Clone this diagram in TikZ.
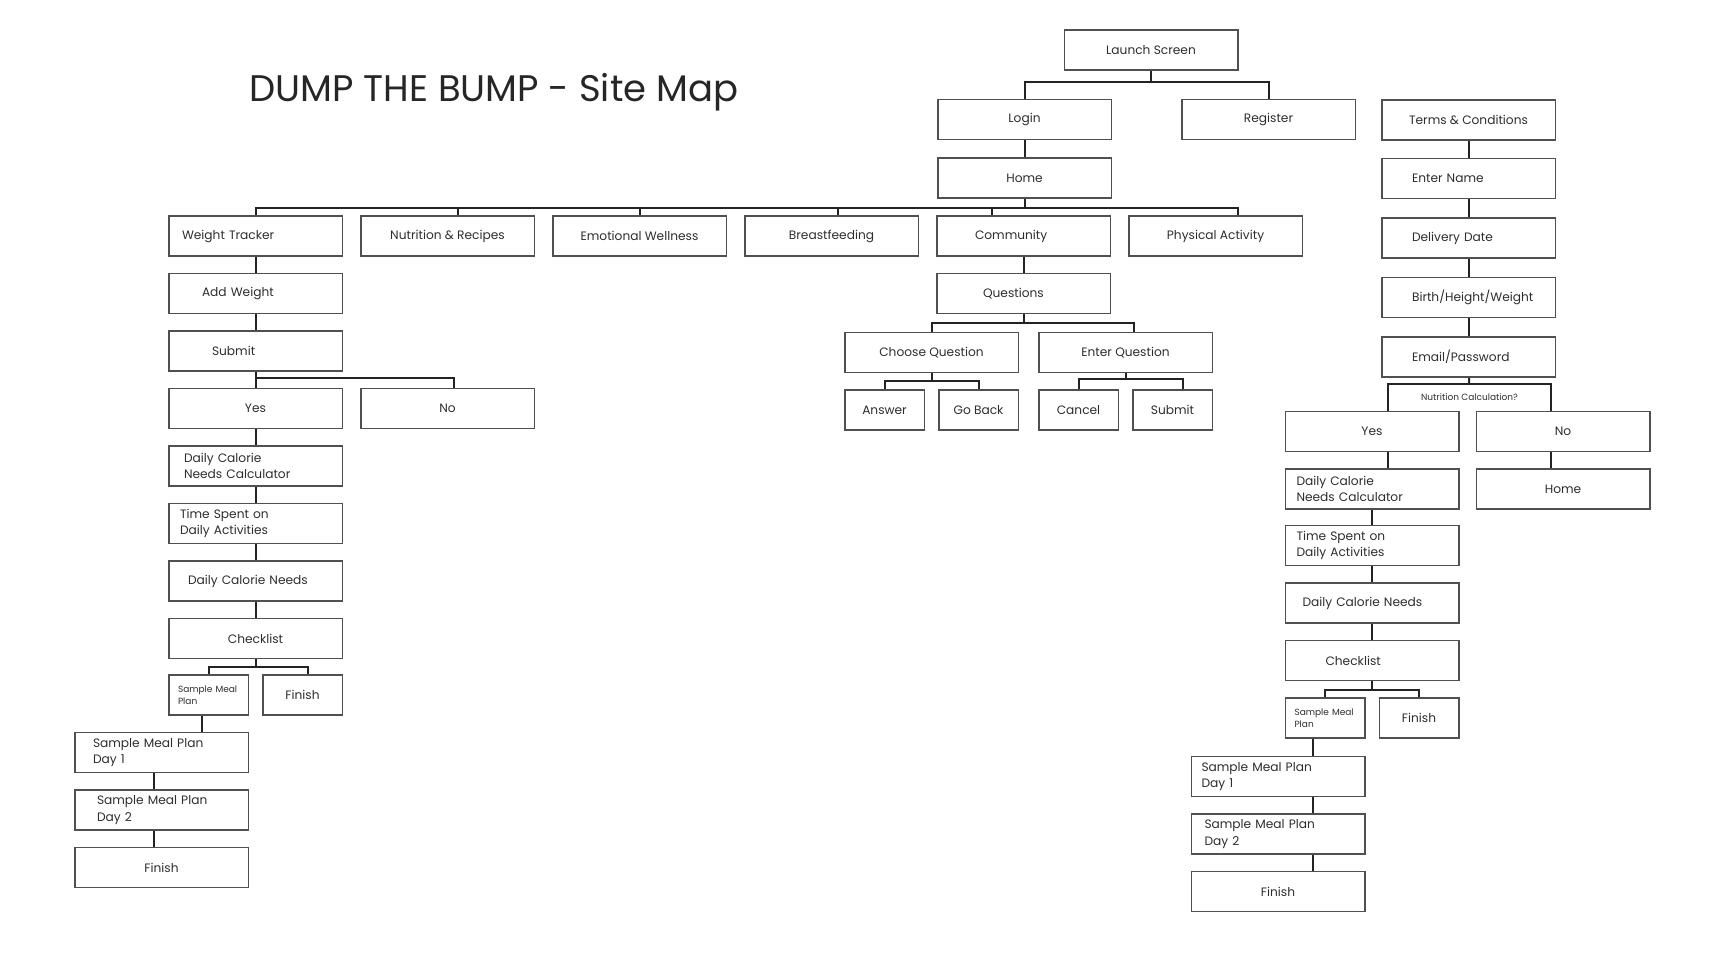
\documentclass[tikz,border=0pt]{standalone}
\usepackage{fontspec}
\setmainfont{Poppins}
\usepackage{tikz}
\usetikzlibrary{
  positioning
}
\definecolor{mapline}{RGB}{35,35,35}
\definecolor{mapedge}{RGB}{80,80,80}
\definecolor{maptext}{RGB}{45,45,45}
\tikzset{
  mapBox/.style={
    rectangle,
    draw=mapedge,
    line width=0.75pt,
    minimum width=86.75pt,
    minimum height=20pt,
    inner sep=0pt,
    text=maptext,
    font=\fontsize{6.1}{8.2}\selectfont
  },
  mapLeft/.style={
    mapBox,
    text width=#1,
    align=left
  },
  mapSmall/.style={
    mapBox,
    minimum width=39.75pt
  },
  mapTiny/.style={
    mapSmall,
    text width=30.5pt,
    align=left,
    font=\fontsize{4.5}{5.8}\selectfont
  },
  mapQuestion/.style={
    inner sep=0pt,
    minimum width=81.5pt,
    minimum height=13.5pt,
    text=maptext,
    font=\fontsize{4.5}{5.5}\selectfont
  },
  mapLink/.style={
    draw=mapline,
    line width=1pt
  }
}

\begin{document}
\begin{tikzpicture}[x=0.5pt, y=-0.5pt]
  \useasboundingbox (0,0) rectangle (1727,954);

  \node[anchor=base west, inner sep=0pt, text=black!85,
    font=\fontsize{18.5}{22}\selectfont] (title) at (249,101)
    {DUMP THE BUMP - Site Map};

  % top of the tree
  \node[mapBox] (launch) at (1151,50) {Launch Screen};
  \node[mapBox] (login) at (1024.5,119.5) {Login};
  \node[mapBox, right=34.5pt of login] (register) {Register};
  \node[mapBox, below=8.5pt of login] (home) {Home};

  % sections
  \node[mapLeft=73.5pt] (weight) at (255.5,236) {Weight Tracker};
  \node[mapBox, right=8.5pt of weight] (nutrition) {Nutrition \& Recipes};
  \node[mapBox, right=8.5pt of nutrition] (emotional) {Emotional Wellness};
  \node[mapBox, right=8.5pt of emotional] (breast) {Breastfeeding};
  \node[mapLeft=48.5pt, right=8.5pt of breast] (community) {Community};
  \node[mapBox, right=8.5pt of community] (physical) {Physical Activity};

  % weight tracker
  \node[mapLeft=53.5pt, below=8pt of weight] (addweight) {Add Weight};
  \node[mapLeft=43.5pt, below=8pt of addweight] (submitW) {Submit};
  \node[mapBox, below=8pt of submitW] (yesW) {Yes};
  \node[mapBox, right=8.5pt of yesW] (noW) {No};
  \node[mapLeft=71.5pt, below=8pt of yesW] (calcW) {Daily Calorie\\Needs Calculator};
  \node[mapLeft=75.5pt, below=8pt of calcW] (timeW) {Time Spent on\\Daily Activities};
  \node[mapLeft=67.5pt, below=8pt of timeW] (needsW) {Daily~Calorie~Needs};
  \node[mapBox, below=8pt of needsW] (checkW) {Checklist};
  \node[mapTiny, below=7.5pt of checkW.south west, anchor=north west] (mealW) {Sample Meal\\Plan};
  \node[mapSmall, below=7.5pt of checkW.south east, anchor=north east] (finishW) {Finish};
  \node[mapLeft=68.5pt, below=8pt of mealW.south east, anchor=north east] (day1W) {Sample Meal Plan\\Day 1};
  \node[mapLeft=64.5pt, below=8pt of day1W] (day2W) {Sample Meal Plan\\Day 2};
  \node[mapBox, below=8pt of day2W] (endW) {Finish};

  % community
  \node[mapLeft=40.5pt, below=8pt of community] (questions) {Questions};
  \node[mapBox] (choose) at (931.5,352.5) {Choose Question};
  \node[mapBox, right=9.5pt of choose] (enter) {Enter Question};
  \node[mapSmall, below=8pt of choose.south west, anchor=north west] (answer) {Answer};
  \node[mapSmall, below=8pt of choose.south east, anchor=north east] (goback) {Go Back};
  \node[mapSmall, below=8pt of enter.south west, anchor=north west] (cancel) {Cancel};
  \node[mapSmall, below=8pt of enter.south east, anchor=north east] (submitQ) {Submit};

  % register
  \node[mapBox] (terms) at (1468.5,120) {Terms \& Conditions};
  \node[mapLeft=56.5pt, below=8.5pt of terms] (name) {Enter Name};
  \node[mapLeft=56.5pt, below=9pt of name] (delivery) {Delivery Date};
  \node[mapLeft=56.5pt, below=9pt of delivery] (birth) {Birth/Height/Weight};
  \node[mapLeft=56.5pt, below=9pt of birth] (email) {Email/Password};
  \node[mapQuestion] (nutcalc) at (1469.5,397.5) {Nutrition Calculation?};
  \node[mapBox] (yesR) at (1372,431.5) {Yes};
  \node[mapBox, right=8pt of yesR] (noR) {No};
  \node[mapBox, below=8pt of noR] (homeR) {Home};
  \node[mapLeft=75.5pt, below=8pt of yesR] (calcR) {Daily Calorie\\Needs Calculator};
  \node[mapLeft=75.5pt, below=7.5pt of calcR] (timeR) {Time Spent on\\Daily Activities};
  \node[mapLeft=69.5pt, below=8pt of timeR] (needsR) {Daily~Calorie~Needs};
  \node[mapLeft=46.5pt, below=8pt of needsR] (checkR) {Checklist};
  \node[mapTiny, below=8pt of checkR.south west, anchor=north west] (mealR) {Sample Meal\\Plan};
  \node[mapSmall, below=8pt of checkR.south east, anchor=north east] (finishR) {Finish};
  \node[mapLeft=76.5pt, below=8.5pt of mealR.south east, anchor=north east] (day1R) {Sample Meal Plan\\Day 1};
  \node[mapLeft=73.5pt, below=8pt of day1R] (day2R) {Sample Meal Plan\\Day 2};
  \node[mapBox, below=8pt of day2R] (endR) {Finish};

  % connectors
  \draw[mapLink] (launch.south) -- ++(0,11) coordinate (launchbar);
  \foreach \n in {login,register}
    \draw[mapLink] (launchbar) -| (\n.north);
  \draw[mapLink] (login) -- (home);
  \draw[mapLink] (home.south) -- ++(0,9) coordinate (homebar);
  \foreach \n/\s in {weight/0,nutrition/5,emotional/0,breast/3,community/-16,physical/11}
    \draw[mapLink] (homebar) -| ([xshift=\s pt]\n.north);

  \foreach \a/\b in {weight/addweight,addweight/submitW,yesW/calcW,calcW/timeW,
      timeW/needsW,needsW/checkW}
    \draw[mapLink] (\a) -- (\b);
  \draw[mapLink] (submitW.south) -- ++(0,6) coordinate (submitbar);
  \draw[mapLink] (submitbar) -| (yesW.north);
  \draw[mapLink] (submitbar) -| ([xshift=3pt]noW.north);
  \draw[mapLink] (checkW.south) -- ++(0,8) coordinate (checkbarW);
  \draw[mapLink] (checkbarW) -| (mealW.north);
  \draw[mapLink] (checkbarW) -| ([xshift=2.5pt]finishW.north);
  \coordinate (dropMeal) at ([xshift=-3.5pt]mealW.south);
  \draw[mapLink] (dropMeal) -- (dropMeal |- day1W.north);
  \coordinate (dropW) at ([xshift=-4pt]day1W.south);
  \draw[mapLink] (dropW) -- (dropW |- day2W.north);
  \draw[mapLink] (day2W.south -| dropW) -- (endW.north -| dropW);

  \draw[mapLink] (community) -- (questions);
  \draw[mapLink] (questions.south) -- ++(0,9) coordinate (qbar);
  \draw[mapLink] (qbar) -| (choose.north);
  \draw[mapLink] (qbar) -| ([xshift=4pt]enter.north);
  \draw[mapLink] (choose.south) -- ++(0,8) coordinate (choosebar);
  \draw[mapLink] (choosebar) -| (answer.north);
  \draw[mapLink] (choosebar) -| (goback.north);
  \draw[mapLink] (enter.south) -- ++(0,6) coordinate (enterbar);
  \draw[mapLink] (enterbar) -| (cancel.north);
  \draw[mapLink] (enterbar) -| ([xshift=5pt]submitQ.north);

  \foreach \a/\b in {terms/name,name/delivery,delivery/birth,birth/email,email/nutcalc,
      calcR/timeR,timeR/needsR,needsR/checkR}
    \draw[mapLink] (\a) -- (\b);
  \draw[mapLink] (nutcalc.south west) |- (nutcalc.north) -| (nutcalc.south east);
  \draw[mapLink] (yesR.south -| nutcalc.south west) -- (calcR.north -| nutcalc.south west);
  \draw[mapLink] (noR.south -| nutcalc.south east) -- (homeR.north -| nutcalc.south east);
  \draw[mapLink] (checkR.south) -- ++(0,9) coordinate (checkbarR);
  \draw[mapLink] (checkbarR) -| (mealR.north);
  \draw[mapLink] (checkbarR) -| (finishR.north);
  \coordinate (dropR) at ([xshift=-6pt]mealR.south);
  \draw[mapLink] (dropR) -- (dropR |- day1R.north);
  \draw[mapLink] (day1R.south -| dropR) -- (day2R.north -| dropR);
  \draw[mapLink] (day2R.south -| dropR) -- (endR.north -| dropR);
\end{tikzpicture}
\end{document}
